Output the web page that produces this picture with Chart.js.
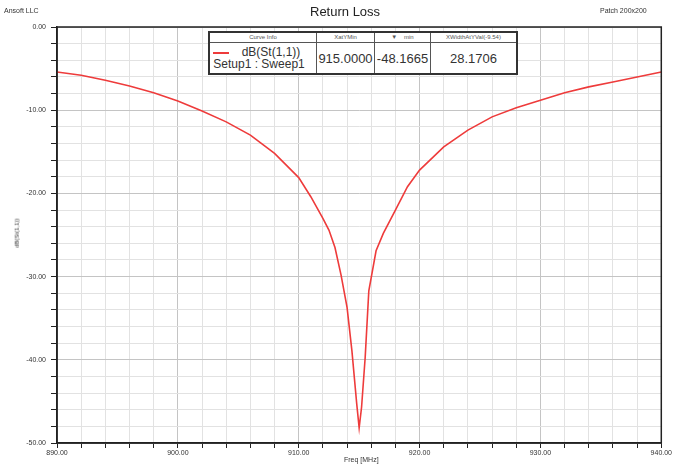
<!DOCTYPE html>
<html>
<head>
<meta charset="utf-8">
<script src="https://cdn.jsdelivr.net/npm/chart.js@4.4.0/dist/chart.umd.min.js"></script>
<style>
  body { margin: 0; background: #fff; font-family: "Liberation Sans", Arial, sans-serif; }
  #wrap { position: relative; width: 673px; height: 467px; }
  .lbl { position: absolute; color: #333; white-space: nowrap; }
  #tbl { position: absolute; left: 208px; top: 31px; border-collapse: collapse; border: 2px solid #333; background: #fff; }
  #tbl td { border: 1px solid #555; padding: 0; text-align: center; color: #333; }
  #tbl tr.h td { height: 9px; font-size: 6px; line-height: 9px; color: #555; }
  #tbl tr.d td { height: 30px; font-size: 13px; }
</style>
</head>
<body>
<div id="wrap">
  <canvas id="myChart" width="673" height="467"></canvas>
  <span class="lbl" style="left:4px;top:7px;font-size:7px;">Ansoft LLC</span>
  <span class="lbl" style="left:310px;top:4px;font-size:13px;color:#222;">Return Loss</span>
  <span class="lbl" style="left:600px;top:7px;font-size:7px;">Patch 200x200</span>
  <span class="lbl" style="left:344px;top:456px;font-size:7px;">Freq [MHz]</span>
  <span class="lbl" style="left:2px;top:230px;font-size:6px;transform:rotate(-90deg);">dB(St(1,1))</span>
  <table id="tbl">
    <tr class="h"><td style="width:106px">Curve Info</td><td style="width:57px">XatYMin</td><td style="width:55px">&#9660;&nbsp;&nbsp;&nbsp;&nbsp;min</td><td style="width:85px">XWidthAtYVal(-9.54)</td></tr>
    <tr class="d">
      <td style="text-align:left;line-height:12px;font-size:12px;">
        <span style="display:inline-block;width:16px;height:2px;background:#ee3b3b;vertical-align:middle;margin:0 6px 0 3px;"></span>&nbsp;&nbsp;dB(St(1,1))<br>&nbsp;Setup1 : Sweep1</td>
      <td>915.0000</td><td>-48.1665</td><td>28.1706</td>
    </tr>
  </table>
</div>
<script>
// frequency points (MHz) and return loss (dB)
var freq = [890, 892, 894, 896, 898, 900, 902, 904, 906, 908, 910, 911, 912, 912.5, 913, 913.5, 914, 914.4, 914.8, 915,
            915.2, 915.5, 915.8, 916.4, 917, 918, 919, 920, 922, 924, 926, 928, 930, 932, 934, 936, 938, 940]
var s11 = [-5.4, -5.8, -6.4, -7.1, -7.9, -8.9, -10.1, -11.4, -13.0, -15.2, -18.1, -20.4, -23.0, -24.4, -26.5, -29.8, -33.7, -38.9, -45.3, -48.17,
           -45.7, -39.7, -31.7, -26.9, -24.8, -22.0, -19.2, -17.2, -14.4, -12.4, -10.8, -9.7, -8.8, -7.9, -7.2, -6.6, -6.0, -5.4]
var xTicks = [890, 900, 910, 920, 930, 940]
var yTicks = [0, -10, -20, -30, -40, -50]

var points = []
for (var i = 0; i < freq.length; i++) {
    points.push({x: freq[i], y: s11[i]})
}

function isMajor(v, list) { return list.indexOf(v) >= 0 }

var frame = {
    id: 'frame',
    afterDraw: function(chart) {
        var a = chart.chartArea, c = chart.ctx
        c.save()
        c.strokeStyle = '#222'
        c.lineWidth = 1.5
        c.strokeRect(a.left, a.top, a.right - a.left, a.bottom - a.top)
        c.restore()
    }
}

var ctx = document.getElementById("myChart")
var myLineChart = new Chart(ctx, {
    type: 'line',
    data: {
        datasets: [{
            label: 'dB(St(1,1))',
            data: points,
            borderColor: '#ee3b3b',
            borderWidth: 1.6,
            pointRadius: 0,
            tension: 0,
            fill: false
        }]
    },
    options: {
        responsive: false,
        animation: false,
        layout: { padding: { left: 0, right: 6, top: 27, bottom: 0 } },
        plugins: { legend: { display: false }, tooltip: { enabled: false } },
        scales: {
            x: {
                type: 'linear', min: 890, max: 940,
                afterFit: function(s) { s.height = 24 },
                border: { color: '#222', width: 1.5 },
                grid: {
                    color: function(c) { return isMajor(c.tick.value, xTicks) ? '#c4c4c4' : '#e2e2e2' },
                    tickColor: '#222', tickLength: 5
                },
                ticks: {
                    stepSize: 2, autoSkip: false, maxRotation: 0, padding: 1,
                    color: '#333', font: { size: 7, family: 'Liberation Sans' },
                    callback: function(v) { return isMajor(v, xTicks) ? v.toFixed(2) : '' }
                }
            },
            y: {
                min: -50, max: 0,
                afterFit: function(s) { s.width = 57 },
                border: { color: '#222', width: 1.5 },
                grid: {
                    color: function(c) { return isMajor(c.tick.value, yTicks) ? '#c4c4c4' : '#e2e2e2' },
                    tickColor: '#222', tickLength: 6
                },
                ticks: {
                    stepSize: 2, autoSkip: false, padding: 5,
                    color: '#333', font: { size: 7, family: 'Liberation Sans' },
                    callback: function(v) { return isMajor(v, yTicks) ? v.toFixed(2) : '' }
                }
            }
        }
    },
    plugins: [frame]
})
</script>
</body>
</html>
